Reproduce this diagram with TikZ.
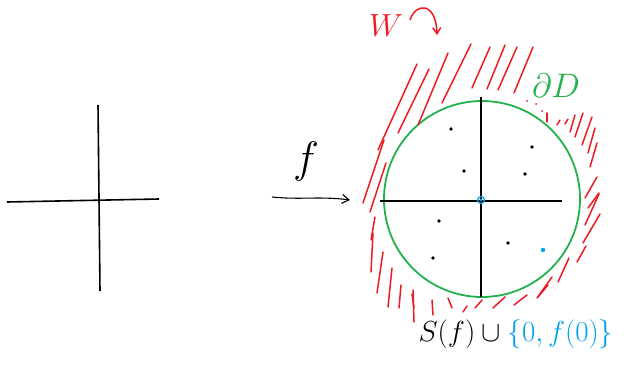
\RequirePackage{fix-cm}
\documentclass[tikz,border=0pt]{standalone}
\usepackage{amsmath,amssymb}
\usepackage{xcolor}
\usetikzlibrary{arrows.meta}

\definecolor{inkred}{RGB}{237,28,36}
\definecolor{inkgreen}{RGB}{34,177,76}
\definecolor{inkblue}{RGB}{0,162,232}

\begin{document}
\begin{tikzpicture}[
    x=1pt, y=-1pt,
    axis/.style={black, line width=1.6pt},
    boundary/.style={inkgreen, line width=1.8pt},
    hatch/.style={inkred, line width=1.5pt, line cap=round},
    point/.style={circle, fill=black, inner sep=1.3pt},
    mapsto/.style={-{Straight Barb[length=7pt,width=9pt]}, line width=1.1pt}
]
\useasboundingbox (0,0) rectangle (624,366);

% domain: plain axes
\draw[axis] (7,202) -- (159,199);
\draw[axis] (98,105) -- (100,291);

% the map f
\coordinate (fstart) at (272,197);
\coordinate (fend) at (350,200);
\draw[mapsto] (fstart) .. controls (300,200) and (320,196) .. (fend);
\node[font=\fontsize{44}{44}\selectfont] (flabel) at (306,162) {$f$};

% image: disc D with axes
\coordinate (O) at (482,199);
\draw[boundary] (O) circle (98);
\draw[axis] (380,201) -- (562,201);
\draw[axis] (481,97) -- (481,297);

% points inside the disc
\foreach \px/\py in {451/129, 532/147, 464/171, 525/174, 439/221, 508/243, 433/258}{
    \node[point] at (\px,\py) {};
}
\draw[inkblue, line width=1.2pt] (481,200) circle (3.5);
\fill[inkblue] (481,200) circle (1.5);
\fill[inkblue] (543,250) circle (2.2);

% hatching of W around the disc
\foreach \ax/\ay/\bx/\by in {
    417/64/378/150, 429/69/398/133, 448/53/418/125, 471/44/442/103,
    490/47/472/88, 505/45/487/89, 517/47/498/90, 533/47/514/93,
    384/140/363/203, 386/163/370/212, 375/217/371/240, 373/233/371/272,
    383/252/377/293, 392/268/388/307, 401/285/399/308, 412/294/414/308,
    413/290/414/322, 432/300/433/315, 448/298/452/308,
    463/312/467/306, 475/308/482/300, 493/308/505/297, 514/305/527/295,
    538/297/548/285, 547/122/547/113, 557/125/560/120, 565/124/568/119,
    570/132/575/115, 575/137/583/113, 582/145/592/117, 588/153/595/128,
    590/167/597/143, 585/198/597/177, 588/208/599/193, 585/225/599/194,
    583/243/600/214, 577/262/586/246, 558/282/569/258, 537/298/552/277}{
    \draw[hatch] (\ax,\ay) -- (\bx,\by);
}
\foreach \px/\py in {527/101, 536/104, 542/111}{
    \fill[inkred] (\px,\py) circle (1);
}

% labels
\node[inkred, font=\fontsize{32}{32}\selectfont] (wlabel) at (386,26) {$W$};
\coordinate (wa) at (410,20);
\coordinate (wb) at (437,35);
\draw[inkred, line width=1.5pt, -{Straight Barb[length=6pt,width=8pt]}]
    (wa) .. controls (416,2) and (436,2) .. (wb);
\node[inkgreen, font=\fontsize{34}{34}\selectfont] (dlabel) at (556,86) {$\partial D$};
\node[font=\fontsize{29}{29}\selectfont] (setlabel) at (516,334)
    {$S(f)\cup\textcolor{inkblue}{\{0, f(0)\}}$};

\end{tikzpicture}
\end{document}
